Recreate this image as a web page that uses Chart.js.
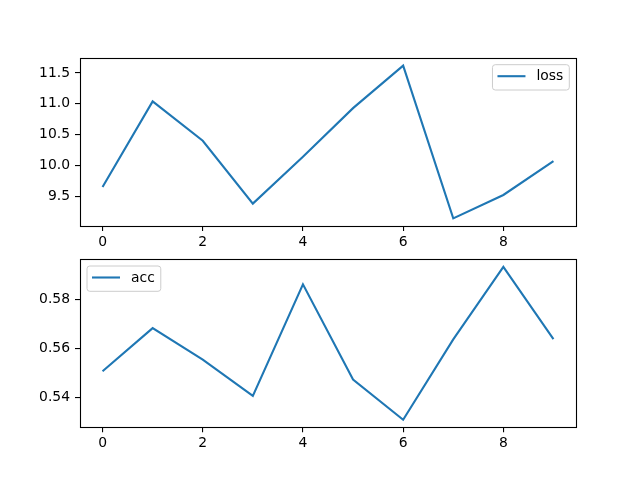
<!DOCTYPE html>
<html lang="en">
<head>
  <meta charset="UTF-8">
  <title>loss / acc</title>
  <style>
    body { margin: 0; background: #fff; }
    #wrap { position: relative; width: 640px; height: 480px; }
    canvas { position: absolute; left: 0; }
    #lossChart { top: 0; }
    #accChart { top: 240px; }
  </style>
</head>
<body>
  <div id="wrap">
    <canvas id="lossChart" width="640" height="250"></canvas>
    <canvas id="accChart" width="640" height="240"></canvas>
  </div>

  <script src="https://cdn.jsdelivr.net/npm/chart.js"></script>
  <script>
    // data
    const steps = [0, 1, 2, 3, 4, 5, 6, 7, 8, 9];
    const loss = [9.65, 11.04, 10.40, 9.38, 10.14, 10.93, 11.62, 9.14, 9.52, 10.07];
    const acc = [0.5508, 0.5684, 0.5555, 0.5407, 0.5863, 0.5474, 0.5310, 0.5638, 0.5934, 0.5639];
    const stepTicks = [0, 2, 4, 6, 8];
    const lossTicks = [9.5, 10.0, 10.5, 11.0, 11.5];
    const accTicks = [0.54, 0.56, 0.58];

    const FONT = 'DejaVu Sans';
    const BLUE = '#1f77b4';

    // matplotlib-style frame and legend drawn inside the plot area
    const frameLegend = {
      id: 'frameLegend',
      afterDraw(chart, args, opts) {
        const ctx = chart.ctx;
        const a = chart.chartArea;
        ctx.save();
        ctx.strokeStyle = '#000';
        ctx.lineWidth = 1.1;
        ctx.strokeRect(Math.round(a.left) + 0.5, Math.round(a.top) + 0.5,
          Math.round(a.width), Math.round(a.height));

        const label = chart.data.datasets[0].label;
        ctx.font = '13.9px "' + FONT + '"';
        const tw = ctx.measureText(label).width;
        const w = 5 + 28 + 11 + tw + 6;
        const h = 25.3;
        const x = opts.side === 'right' ? a.right - 6.7 - w : a.left + 7;
        const y = a.top + 6.7;
        const r = 2.8;
        ctx.beginPath();
        ctx.moveTo(x + r, y);
        ctx.arcTo(x + w, y, x + w, y + h, r);
        ctx.arcTo(x + w, y + h, x, y + h, r);
        ctx.arcTo(x, y + h, x, y, r);
        ctx.arcTo(x, y, x + w, y, r);
        ctx.closePath();
        ctx.fillStyle = 'rgba(255,255,255,0.8)';
        ctx.fill();
        ctx.strokeStyle = '#cccccc';
        ctx.lineWidth = 1;
        ctx.stroke();

        ctx.beginPath();
        ctx.moveTo(x + 5, y + 11.5);
        ctx.lineTo(x + 33, y + 11.5);
        ctx.strokeStyle = BLUE;
        ctx.lineWidth = 2.1;
        ctx.stroke();

        ctx.fillStyle = '#000';
        ctx.textBaseline = 'middle';
        ctx.fillText(label, x + 44, y + 12);
        ctx.restore();
      }
    };

    function makeChart(canvasId, label, values, yMin, yMax, yTicks, digits, padTop, xHeight, side) {
      return new Chart(document.getElementById(canvasId), {
        type: 'line',
        data: {
          datasets: [{
            label: label,
            data: steps.map((s, i) => ({ x: s, y: values[i] })),
            borderColor: BLUE,
            borderWidth: 2.1,
            pointRadius: 0,
            fill: false,
            tension: 0
          }]
        },
        options: {
          responsive: false,
          animation: false,
          layout: { padding: { top: padTop, right: 64, left: 0, bottom: 0 } },
          plugins: {
            legend: { display: false },
            tooltip: { enabled: false },
            frameLegend: { side: side }
          },
          scales: {
            x: {
              type: 'linear',
              min: -0.45,
              max: 9.45,
              afterBuildTicks: (scale) => { scale.ticks = stepTicks.map(v => ({ value: v })); },
              afterFit: (scale) => { scale.height = xHeight; },
              border: { display: false },
              grid: { drawOnChartArea: false, drawTicks: true, tickLength: 5, color: '#000', lineWidth: 1.1 },
              ticks: { color: '#000', padding: 3, maxRotation: 0, font: { family: FONT, size: 13.9 },
                callback: (v) => String(v) }
            },
            y: {
              min: yMin,
              max: yMax,
              afterBuildTicks: (scale) => { scale.ticks = yTicks.map(v => ({ value: v })); },
              afterFit: (scale) => { scale.width = 80; },
              border: { display: false },
              grid: { drawOnChartArea: false, drawTicks: true, tickLength: 5, color: '#000', lineWidth: 1.1 },
              ticks: { color: '#000', padding: 5, font: { family: FONT, size: 13.9 },
                callback: (v) => Number(v).toFixed(digits) }
            }
          }
        },
        plugins: [frameLegend]
      });
    }

    makeChart('lossChart', 'loss', loss, 9.016, 11.744, lossTicks, 1, 58, 24, 'right');
    makeChart('accChart', 'acc', acc, 0.5279, 0.5965, accTicks, 2, 19.3, 52.7, 'left');
  </script>
</body>
</html>
